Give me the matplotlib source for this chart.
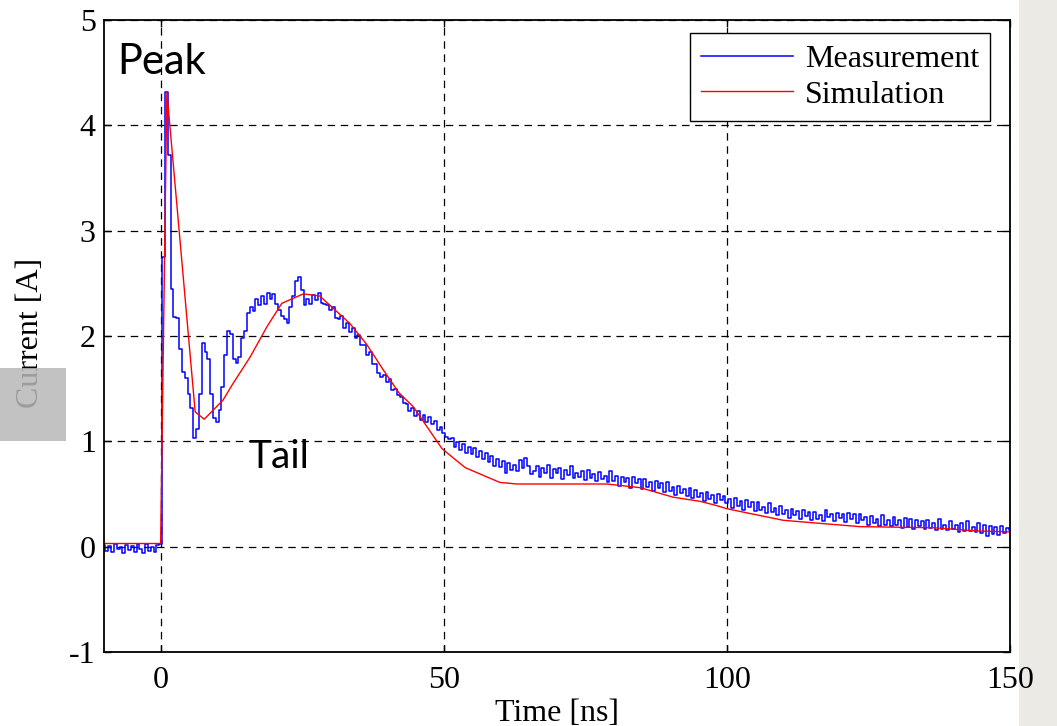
import numpy as np
import matplotlib.pyplot as plt
from matplotlib.patches import Rectangle

# Measured current, sampled every 0.5 ns from -10 ns to 150 ns [A]
meas_t0, meas_dt = -10.0, 0.5
meas_i = [
    0.02, -0.04, 0.01, -0.05, 0.03, -0.02, 0.00, -0.06, 0.02, -0.03,
    0.01, -0.05, 0.03, -0.02, -0.06, 0.03, -0.04, 0.00, -0.05, 0.02,
    0.03, 2.75, 4.32, 3.72, 2.45, 2.18, 2.17, 1.88, 1.66, 1.60,
    1.45, 1.32, 1.03, 1.12, 1.45, 1.93, 1.85, 1.78, 1.45, 1.22,
    1.18, 1.30, 1.52, 1.82, 2.05, 2.02, 1.78, 1.74, 1.80, 1.98,
    2.05, 2.22, 2.28, 2.24, 2.35, 2.29, 2.38, 2.30, 2.41, 2.35,
    2.40, 2.30, 2.25, 2.19, 2.16, 2.12, 2.28, 2.38, 2.52, 2.56,
    2.44, 2.29, 2.35, 2.30, 2.39, 2.34, 2.41, 2.31, 2.30, 2.29,
    2.25, 2.28, 2.17, 2.16, 2.19, 2.08, 2.12, 2.04, 2.08, 1.98,
    2.01, 1.91, 1.91, 1.82, 1.85, 1.73, 1.73, 1.65, 1.61, 1.63,
    1.56, 1.59, 1.49, 1.50, 1.44, 1.42, 1.36, 1.35, 1.29, 1.32,
    1.24, 1.29, 1.20, 1.25, 1.18, 1.23, 1.16, 1.19, 1.11, 1.14,
    1.08, 1.04, 1.02, 1.03, 0.95, 0.99, 0.92, 0.97, 0.89, 0.95,
    0.88, 0.94, 0.85, 0.91, 0.83, 0.89, 0.80, 0.86, 0.77, 0.83,
    0.76, 0.81, 0.70, 0.79, 0.73, 0.78, 0.72, 0.82, 0.75, 0.84,
    0.77, 0.69, 0.72, 0.77, 0.66, 0.75, 0.70, 0.78, 0.65, 0.74,
    0.70, 0.75, 0.64, 0.73, 0.68, 0.77, 0.65, 0.70, 0.66, 0.72,
    0.63, 0.73, 0.65, 0.69, 0.62, 0.71, 0.64, 0.67, 0.61, 0.72,
    0.62, 0.67, 0.58, 0.66, 0.61, 0.65, 0.56, 0.66, 0.60, 0.64,
    0.55, 0.64, 0.57, 0.61, 0.53, 0.62, 0.56, 0.60, 0.52, 0.61,
    0.53, 0.57, 0.49, 0.58, 0.51, 0.55, 0.48, 0.56, 0.46, 0.54,
    0.47, 0.51, 0.43, 0.52, 0.45, 0.49, 0.41, 0.50, 0.44, 0.48,
    0.41, 0.45, 0.37, 0.46, 0.39, 0.43, 0.35, 0.44, 0.38, 0.42,
    0.34, 0.42, 0.35, 0.38, 0.32, 0.41, 0.33, 0.37, 0.30, 0.39,
    0.31, 0.35, 0.27, 0.36, 0.30, 0.34, 0.26, 0.35, 0.29, 0.33,
    0.25, 0.33, 0.26, 0.30, 0.24, 0.35, 0.28, 0.31, 0.24, 0.32,
    0.27, 0.31, 0.23, 0.32, 0.26, 0.31, 0.22, 0.31, 0.25, 0.28,
    0.21, 0.29, 0.22, 0.26, 0.20, 0.30, 0.21, 0.25, 0.20, 0.28,
    0.21, 0.25, 0.18, 0.27, 0.19, 0.26, 0.17, 0.25, 0.20, 0.24,
    0.17, 0.25, 0.18, 0.22, 0.16, 0.26, 0.17, 0.21, 0.16, 0.24,
    0.17, 0.21, 0.14, 0.22, 0.15, 0.24, 0.15, 0.19, 0.14, 0.22,
    0.13, 0.21, 0.10, 0.20, 0.12, 0.19, 0.11, 0.20, 0.13, 0.18,
    0.16,
]

# Simulated current (polyline breakpoints)
sim_t = [-10, 0, 1.1, 6.1, 7.7, 11, 12.8, 15.8, 18.8, 21.4, 25.2, 28.1, 33.4,
         36.4, 39.3, 42.1, 44.6, 49.7, 53.8, 59.9, 62.9, 78.8, 84.7, 90.5,
         95.3, 98.2, 100, 110, 123.5, 136.4, 144, 150]
sim_i = [0.03, 0.03, 4.32, 1.28, 1.21, 1.39, 1.55, 1.80, 2.09, 2.31, 2.40, 2.38,
         2.12, 1.92, 1.68, 1.46, 1.33, 0.93, 0.75, 0.61, 0.595, 0.595, 0.56,
         0.47, 0.43, 0.39, 0.36, 0.25, 0.19, 0.18, 0.15, 0.14]

x_ticks = [0, 50, 100, 150]
y_ticks = [-1, 0, 1, 2, 3, 4, 5]

meas_t = meas_t0 + meas_dt * np.arange(len(meas_i))

serif = ['Liberation Serif', 'DejaVu Serif']
plt.rcParams['font.family'] = serif
plt.rcParams['axes.unicode_minus'] = False

fig = plt.figure(figsize=(10.57, 7.26), dpi=100)
ax = fig.add_axes([104 / 1057, 74 / 726, 906 / 1057, 632 / 726])

# grey strip on the right of the slide, behind everything
fig.patches.append(Rectangle((1019 / 1057, 0), 38 / 1057, 1, transform=fig.transFigure,
                             facecolor='#ebeae5', edgecolor='none', zorder=-5))

ax.plot(meas_t, meas_i, color='#0000ff', lw=1.1, drawstyle='steps-mid',
        label='Measurement')
ax.plot(sim_t, sim_i, color='#ff0000', lw=1.0, label='Simulation')

ax.set_xlim(-10, 150)
ax.set_ylim(-1, 5)
ax.set_xticks(x_ticks)
ax.set_yticks(y_ticks)
ax.grid(True, color='k', lw=0.9, dashes=(6, 4.5))
ax.tick_params(direction='in', length=5, width=1, top=True, right=True,
               labelsize=23)
ax.tick_params(axis='x', pad=10)
ax.tick_params(axis='y', pad=6)
for s in ax.spines.values():
    s.set_linewidth(1.3)

ax.set_xlabel('Time [ns]', fontsize=23, labelpad=3)
fig.text(30 / 1057, 1 - 333 / 726, 'Current [A]', rotation=90, fontsize=23,
         ha='center', va='center', family=serif)
fig.patches.append(Rectangle((0, 1 - 441 / 726), 66 / 1057, 73 / 726,
                             transform=fig.transFigure, facecolor='#b8b8b8',
                             edgecolor='none', alpha=0.85, zorder=5))

leg = ax.legend(loc='upper right', bbox_to_anchor=(0.978, 0.979), fontsize=23,
                handlelength=2.9, handletextpad=0.35, borderpad=0.35,
                labelspacing=0.2, fancybox=False, framealpha=1,
                edgecolor='k', borderaxespad=0)
leg.get_frame().set_linewidth(1.0)

ax.text(-7.7, 4.49, 'Peak', fontsize=30, family=['Lato', 'DejaVu Sans'],
        ha='left', va='baseline')
ax.text(15.5, 0.75, 'Tail', fontsize=28, family=['Lato', 'DejaVu Sans'],
        ha='left', va='baseline')

fig.savefig('out.png', dpi=100)
